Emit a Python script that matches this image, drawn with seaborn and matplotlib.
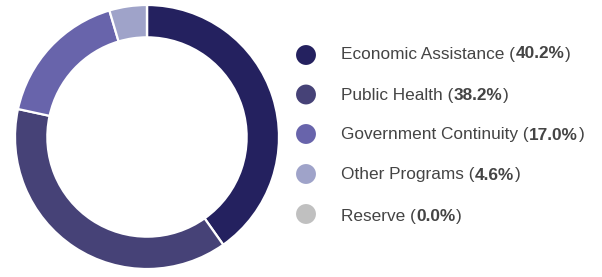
import seaborn as sns
import matplotlib.pyplot as plt
from matplotlib.transforms import offset_copy

###################
# Data
categories = ["Economic Assistance", "Public Health", "Government Continuity", "Other Programs", "Reserve"]
shares = [40.2, 38.2, 17.0, 4.6, 0.0]
colors = ["#24215f", "#464277", "#6864ab", "#9fa3c9", "#c0c0c0"]

###################
# Setup
sns.set_theme(style="white")
plt.rcParams['font.family'] = ['Liberation Sans', 'DejaVu Sans']

W, H = 602, 277
fig = plt.figure(figsize=(W / 100, H / 100), dpi=100)

cx, cy, r = 147, 137, 132
ax = fig.add_axes([(cx - r) / W, (H - cy - r) / H, 2 * r / W, 2 * r / H])
ax.pie(shares, colors=colors, startangle=90, counterclock=False, radius=1.0,
       wedgeprops=dict(width=0.245, edgecolor="white", linewidth=1.6))
ax.set_xlim(-1, 1)
ax.set_ylim(-1, 1)
ax.set_aspect("equal")
ax.axis("off")

###################
# Legend
lax = fig.add_axes([0, 0, 1, 1])
lax.set_xlim(0, W)
lax.set_ylim(H, 0)
lax.axis("off")

dot_ys = [55, 94.5, 134, 174, 214]
text_ys = [52.5, 94, 133.5, 173.5, 215]
lax.scatter([306] * len(dot_ys), dot_ys, s=205, c=colors, linewidths=0)

fig.canvas.draw()
renderer = fig.canvas.get_renderer()
txt_color = "#444444"
fs = 12.4
for name, val, y in zip(categories, shares, text_ys):
    t = lax.text(341, y, f"{name} (", fontsize=fs, color=txt_color, va="center_baseline")
    w = t.get_window_extent(renderer).width
    t2 = lax.text(341, y, f"{val:.1f}%", fontsize=fs, color=txt_color, fontweight="bold",
                  va="center_baseline", transform=offset_copy(lax.transData, fig=fig, x=w + 0.5, units="dots"))
    w2 = t2.get_window_extent(renderer).width
    lax.text(341, y, ")", fontsize=fs, color=txt_color, va="center_baseline",
             transform=offset_copy(lax.transData, fig=fig, x=w + w2 + 1, units="dots"))

###################
# Export
fig.savefig("out.png", dpi=100)
